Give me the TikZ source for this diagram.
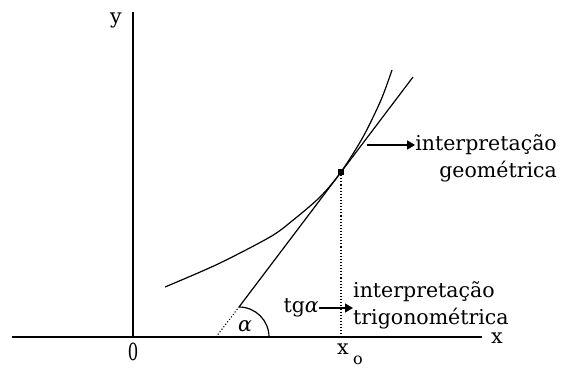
\documentclass[tikz,border=0pt]{standalone}
\usepackage{fontspec}
\setmainfont{DejaVu Serif}
\usetikzlibrary{arrows.meta}
\begin{document}
\begin{tikzpicture}[x=1pt,y=-1pt,
  axis/.style={line width=1.3pt},
  curve/.style={line width=1.2pt},
  dotline/.style={line width=1.1pt,dotted},
  lbl/.style={font=\fontsize{20.5}{27}\selectfont,inner sep=0pt},
  arr/.style={line width=1.2pt,-{Triangle[length=8pt,width=9pt]}}]
\useasboundingbox (0,0) rectangle (567,367);
% axes
\coordinate (xl) at (12,337);
\coordinate (xr) at (482,337);
\coordinate (yb) at (133,337);
\coordinate (yt) at (133,12);
\draw[axis] (xl) -- (xr);
\draw[axis] (yb) -- (yt);
\node[lbl] (ylab) at (116,20) {y};
\node[lbl] (xlab) at (497,338) {x};
\node[lbl] (zero) at (133,352) {\scalebox{0.8}[1.15]{0}};
\node[lbl] (x0) at (343,349) {x};
\node[lbl,font=\fontsize{16}{18}\selectfont] (x0sub) at (358,360) {o};
% tangent point
\coordinate (P) at (341,172);
\coordinate (T0) at (216,337);
\coordinate (T1) at (239,307);
\coordinate (T2) at (413,77);
\coordinate (Pb) at (341,337);
\draw[dotline] (T0) -- (T1);
\draw[curve] (T1) -- (T2);
\draw[dotline] (P) -- (Pb);
% curve
\draw[curve] plot[smooth,tension=0.5] coordinates {(165,287) (218,264) (270,237) (292,221) (320,197) (341,172) (363,137) (381,100) (392,70)};
\node[fill,inner sep=0pt,minimum size=6pt] (Pm) at (P) {};
% angle
\draw[curve] (269,337) arc (0:-90:30);
\node[lbl] (alpha) at (245,326) {\textit{α}};
% labels
\node[lbl,anchor=east] (tg) at (319,308) {tg\textit{α}};
\coordinate (tgend) at (353,308);
\draw[arr] (tg.east) -- (tgend);
\node[lbl,anchor=west,align=left] (trig) at (353,305) {interpretação\\trigonométrica};
\coordinate (gs) at (367,145);
\node[lbl,anchor=east,align=right] (geo) at (557,158) {interpretação\\geométrica};
\draw[arr] (gs) -- (geo.west |- gs);
\end{tikzpicture}
\end{document}
